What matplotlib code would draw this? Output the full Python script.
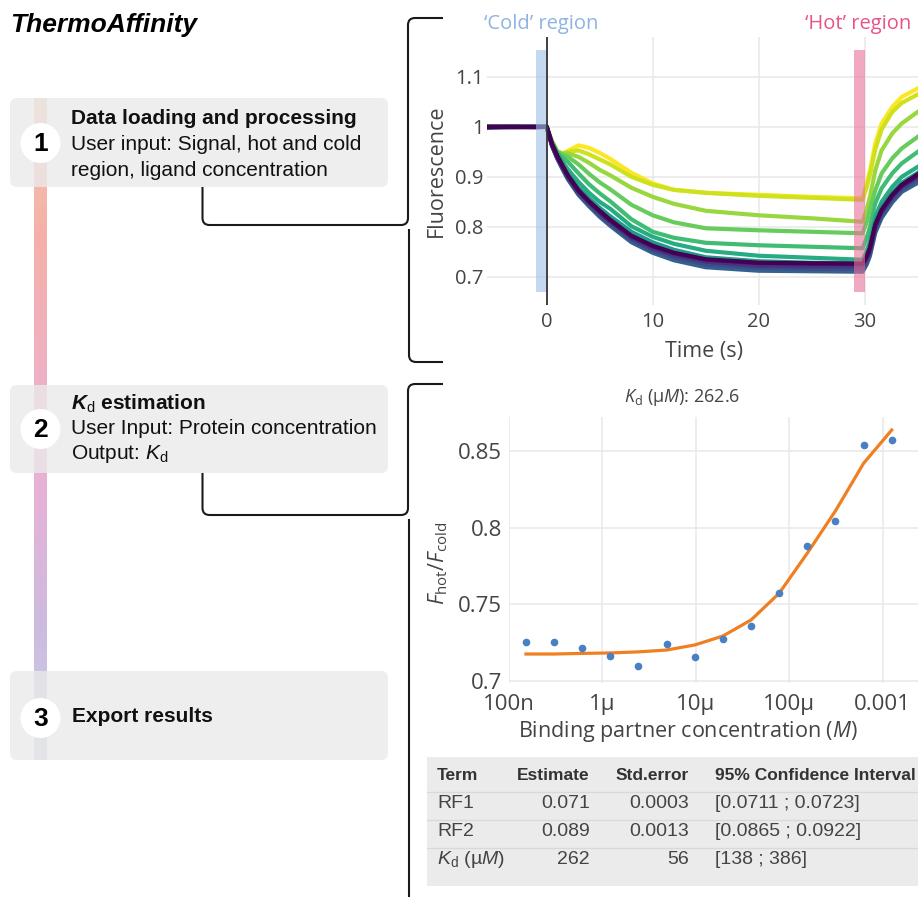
import numpy as np
import matplotlib
matplotlib.use("Agg")
import matplotlib.pyplot as plt
from matplotlib.path import Path
from matplotlib.patches import PathPatch, FancyBboxPatch, Circle, Rectangle
from matplotlib.colors import LinearSegmentedColormap

plt.rcParams["font.family"] = ["Open Sans", "DejaVu Sans"]
plt.rcParams["mathtext.fontset"] = "custom"
plt.rcParams["mathtext.rm"] = "Liberation Sans"
plt.rcParams["mathtext.it"] = "Liberation Sans:italic"
plt.rcParams["mathtext.bf"] = "Liberation Sans:bold:italic"
plt.rcParams["mathtext.sf"] = "Open Sans"
plt.rcParams["mathtext.cal"] = "Open Sans:italic"

# ---- data: thermophoresis traces ----
time_s = [-5.5, -3, -1, 0, 0.5, 1, 1.5, 2, 3, 4, 5, 6, 8, 10, 12, 15, 20, 25,
          29.8, 30.2, 30.5, 31, 31.6, 32.6, 33.5, 35]

# lowest ligand concentration first
f_c01 = [1.0, 1.0, 1.0, 1.0, 0.966, 0.942, 0.922, 0.903, 0.873, 0.851, 0.832, 0.814, 0.782, 0.762,
         0.748, 0.735, 0.728, 0.727, 0.726, 0.741, 0.758, 0.805, 0.834, 0.864, 0.884, 0.905]
f_c02 = [1.0, 1.0, 0.999, 1.0, 0.965, 0.941, 0.921, 0.902, 0.872, 0.85, 0.83, 0.812, 0.781, 0.761,
         0.747, 0.734, 0.727, 0.726, 0.726, 0.74, 0.757, 0.803, 0.832, 0.862, 0.882, 0.902]
f_c03 = [1.0, 0.999, 1.0, 1.0, 0.964, 0.94, 0.92, 0.9, 0.87, 0.848, 0.828, 0.81, 0.778, 0.757,
         0.743, 0.73, 0.722, 0.721, 0.721, 0.736, 0.753, 0.8, 0.83, 0.86, 0.88, 0.9]
f_c04 = [0.998, 1.0, 1.0, 1.0, 0.963, 0.938, 0.918, 0.898, 0.867, 0.845, 0.824, 0.806, 0.774, 0.753,
         0.739, 0.725, 0.718, 0.716, 0.716, 0.731, 0.748, 0.795, 0.825, 0.855, 0.876, 0.895]
f_c05 = [1.0, 1.0, 1.0, 1.0, 0.962, 0.936, 0.915, 0.895, 0.864, 0.841, 0.82, 0.802, 0.769, 0.748,
         0.733, 0.719, 0.712, 0.711, 0.71, 0.725, 0.742, 0.788, 0.818, 0.849, 0.87, 0.888]
f_c06 = [1.0, 1.0, 1.0, 1.0, 0.965, 0.941, 0.921, 0.901, 0.871, 0.849, 0.83, 0.812, 0.78, 0.76,
         0.746, 0.733, 0.726, 0.725, 0.724, 0.739, 0.756, 0.802, 0.831, 0.861, 0.881, 0.901]
f_c07 = [1.0, 1.001, 1.0, 1.0, 0.963, 0.938, 0.917, 0.898, 0.867, 0.845, 0.825, 0.807, 0.775, 0.754,
         0.74, 0.726, 0.718, 0.717, 0.716, 0.732, 0.749, 0.796, 0.826, 0.856, 0.877, 0.895]
f_c08 = [1.0, 1.0, 1.0, 1.0, 0.966, 0.943, 0.924, 0.906, 0.878, 0.857, 0.838, 0.821, 0.79, 0.769,
         0.754, 0.739, 0.731, 0.728, 0.727, 0.743, 0.761, 0.81, 0.84, 0.868, 0.888, 0.908]
f_c09 = [1.0, 1.0, 1.0, 1.0, 0.968, 0.947, 0.93, 0.915, 0.89, 0.868, 0.85, 0.836, 0.801, 0.78,
         0.766, 0.752, 0.742, 0.738, 0.734, 0.752, 0.772, 0.82, 0.85, 0.88, 0.9, 0.92]
f_c10 = [1.0, 1.0, 1.0, 1.0, 0.969, 0.948, 0.938, 0.93, 0.907, 0.885, 0.867, 0.851, 0.815, 0.79,
         0.778, 0.768, 0.763, 0.76, 0.757, 0.778, 0.8, 0.847, 0.877, 0.907, 0.927, 0.95]
f_c11 = [1.0, 1.0, 1.0, 1.0, 0.97, 0.95, 0.944, 0.94, 0.925, 0.906, 0.889, 0.875, 0.844, 0.823,
         0.809, 0.797, 0.793, 0.79, 0.787, 0.81, 0.835, 0.873, 0.907, 0.937, 0.957, 0.98]
f_c12 = [1.0, 1.0, 1.0, 1.0, 0.97, 0.95, 0.946, 0.947, 0.94, 0.928, 0.914, 0.903, 0.878, 0.86,
         0.846, 0.832, 0.823, 0.817, 0.81, 0.835, 0.86, 0.913, 0.953, 0.987, 1.007, 1.03]
f_c13 = [1.0, 1.0, 1.0, 1.0, 0.971, 0.951, 0.946, 0.95, 0.953, 0.945, 0.935, 0.925, 0.9, 0.884,
         0.874, 0.868, 0.862, 0.858, 0.854, 0.88, 0.905, 0.955, 0.995, 1.03, 1.048, 1.065]
f_c14 = [1.0, 1.0, 1.0, 1.0, 0.971, 0.952, 0.947, 0.952, 0.963, 0.958, 0.948, 0.936, 0.908, 0.887,
         0.874, 0.868, 0.864, 0.86, 0.857, 0.888, 0.913, 0.967, 1.007, 1.04, 1.06, 1.077]
traces = [f_c01, f_c02, f_c03, f_c04, f_c05, f_c06, f_c07,
          f_c08, f_c09, f_c10, f_c11, f_c12, f_c13, f_c14]

cold_region = (-1, 0)
hot_region = (29, 30)

# ---- data: dose response ----
conc_M = [1.53e-7, 3.05e-7, 6.1e-7, 1.22e-6, 2.44e-6, 4.88e-6, 9.77e-6,
          1.95e-5, 3.91e-5, 7.81e-5, 1.56e-4, 3.13e-4, 6.25e-4, 1.25e-3]
f_ratio = [0.7257, 0.7257, 0.7215, 0.7163, 0.7098, 0.7241, 0.7159,
           0.7272, 0.7361, 0.7576, 0.7883, 0.8041, 0.8541, 0.8574]
f_fit = [0.7176, 0.7176, 0.718, 0.7183, 0.719, 0.7202, 0.7235,
         0.7293, 0.7398, 0.7572, 0.7833, 0.811, 0.842, 0.8637]
kd_uM = 262.6
conc_ticks = [1e-7, 1e-6, 1e-5, 1e-4, 1e-3]
conc_ticklabels = ["100n", "1µ", "10µ", "100µ", "0.001"]

# ---- data: fit table ----
table_terms = ["RF1", "RF2", r"$\mathit{K}_\mathrm{d}$ (µ$\mathit{M}$)"]
table_estimate = ["0.071", "0.089", "262"]
table_stderr = ["0.0003", "0.0013", "56"]
table_ci = ["[0.0711 ; 0.0723]", "[0.0865 ; 0.0922]", "[138 ; 386]"]

W, H = 918, 897
fig = plt.figure(figsize=(W / 100, H / 100), dpi=100)

# full-figure canvas in pixel coordinates for the workflow panel
bg = fig.add_axes([0, 0, 1, 1])
bg.set_xlim(0, W)
bg.set_ylim(H, 0)
bg.axis("off")


def rounded_path(pts, r=7):
    verts = [pts[0]]
    codes = [Path.MOVETO]
    for i in range(1, len(pts) - 1):
        p0, p1, p2 = (np.array(p, float) for p in pts[i - 1:i + 2])
        u1 = (p1 - p0) / np.linalg.norm(p1 - p0)
        u2 = (p2 - p1) / np.linalg.norm(p2 - p1)
        verts += [tuple(p1 - r * u1), tuple(p1), tuple(p1 + r * u2)]
        codes += [Path.LINETO, Path.CURVE3, Path.CURVE3]
    verts.append(pts[-1])
    codes.append(Path.LINETO)
    return Path(verts, codes)


LEFT_FONT = "Liberation Sans"
bg.text(10, 25, "ThermoAffinity", fontsize=19, fontweight="bold", style="italic",
        family=LEFT_FONT, va="center", ha="left")

# gradient bar behind the step boxes
grad = LinearSegmentedColormap.from_list(
    "bar", ["#f5c4ae", "#f4b1a9", "#f0b0c2", "#e6b2d6", "#cdbbe0", "#c9d0e4"])
bg.imshow(np.linspace(0, 1, 256).reshape(-1, 1), cmap=grad, aspect="auto",
          extent=[34, 47, 760, 98], zorder=1)

boxes = [(98, 187), (385, 473), (671, 760)]
for top, bot in boxes:
    bg.add_patch(FancyBboxPatch((10, top), 378, bot - top,
                                boxstyle="round,pad=0,rounding_size=7",
                                fc="#eaeaea", ec="none", alpha=0.8, zorder=2))

for num, cy in zip(["1", "2", "3"], [143, 429, 718]):
    bg.add_patch(Circle((40.5, cy), 20, fc="white", ec="none", zorder=3))
    bg.text(40.5, cy + 1, num, fontsize=19, fontweight="bold", family=LEFT_FONT,
            ha="center", va="center", zorder=4)

txt = dict(family=LEFT_FONT, fontsize=15, ha="left", va="center", color="#111")
bg.text(71, 119, "Data loading and processing", fontweight="bold", **txt)
bg.text(71, 145, "User input: Signal, hot and cold", **txt)
bg.text(71, 170, "region, ligand concentration", **txt)
bg.text(71, 404, r"$\mathbf{K}_\mathrm{d}$ estimation", fontweight="bold", **txt)
bg.text(71, 429, "User Input: Protein concentration", **txt)
bg.text(71, 454, r"Output: $\mathit{K}_\mathrm{d}$", **txt)
bg.text(72, 717, "Export results", fontweight="bold", **txt)

# connectors / brackets
line_kw = dict(fc="none", ec="#1a1a1a", lw=1.5, zorder=3)
bg.add_patch(PathPatch(rounded_path([(202.5, 187), (202.5, 225), (408, 225),
                                     (408, 18), (443, 18)]), **line_kw))
bg.add_patch(PathPatch(rounded_path([(409, 229), (409, 362), (443, 362)]), **line_kw))
bg.add_patch(PathPatch(rounded_path([(202.5, 473), (202.5, 515), (408, 515),
                                     (408, 384), (443, 384)]), **line_kw))
bg.add_patch(PathPatch(rounded_path([(409, 519), (409, 905)]), **line_kw))

# fit table
bg.add_patch(Rectangle((427, 757), W - 427, 129, fc="#ebebeb", ec="none", zorder=1))
for y in [792.5, 820.5, 848.5]:
    bg.plot([427, W], [y, y], color="#d9d9d9", lw=0.9, zorder=2)
th = dict(family=LEFT_FONT, fontsize=12.5, va="center", zorder=3,
          fontweight="bold", color="#333")
bg.text(437, 775, "Term", ha="left", **th)
bg.text(590, 775, "Estimate", ha="right", **th)
bg.text(689, 775, "Std.error", ha="right", **th)
bg.text(715, 775, "95% Confidence Interval", ha="left", **th)
tb = dict(family=LEFT_FONT, fontsize=14, va="center", zorder=3, color="#444")
for y, term, est, se, ci in zip([803.5, 831.5, 859], table_terms, table_estimate,
                                table_stderr, table_ci):
    bg.text(437, y, term, ha="left", **tb)
    bg.text(590, y, est, ha="right", **tb)
    bg.text(689, y, se, ha="right", **tb)
    bg.text(715, y, ci, ha="left", **tb)

GRID = "#e8e8e8"
TICK = "#444444"


def px_axes(left, top, right, bottom):
    return fig.add_axes([left / W, 1 - bottom / H, (right - left) / W, (bottom - top) / H])


# ---- top panel: fluorescence traces ----
ax1 = px_axes(487, 37, W, 305)
ax1.set_facecolor("none")
colors = plt.cm.viridis(np.linspace(0, 1, len(traces)))
for vals, c in reversed(list(zip(traces, colors))):
    ax1.plot(time_s, vals, color=c, lw=3.0, solid_joinstyle="round", zorder=3)
band_lo = (0.67 - 0.6434) / (1.18 - 0.6434)
band_hi = (1.153 - 0.6434) / (1.18 - 0.6434)
ax1.axvspan(*cold_region, ymin=band_lo, ymax=band_hi, color="#9ec0e6", alpha=0.6, lw=0, zorder=4)
ax1.axvspan(*hot_region, ymin=band_lo, ymax=band_hi, color="#e97199", alpha=0.6, lw=0, zorder=4)
ax1.axvline(0, color="#333333", lw=1.3, zorder=5)
ax1.set_xlim(-5.63, 35.03)
ax1.set_ylim(0.6434, 1.18)
ax1.set_xticks([0, 10, 20, 30])
ax1.set_yticks([0.7, 0.8, 0.9, 1.0, 1.1])
ax1.set_yticklabels(["0.7", "0.8", "0.9", "1", "1.1"])
ax1.grid(True, color=GRID, lw=1.1, zorder=0)
ax1.set_axisbelow(True)
for s in ax1.spines.values():
    s.set_visible(False)
ax1.tick_params(length=0, labelsize=14.5, labelcolor=TICK)
ax1.tick_params(axis="y", pad=2.5)
ax1.tick_params(axis="x", pad=5)
bg.text(436, 171, "Fluorescence", rotation=90, fontsize=15.5, color=TICK,
        ha="center", va="center")
bg.text(704, 352, "Time (s)", fontsize=15.5, color=TICK, ha="center", va="center")
bg.text(484, 24, "‘Cold’ region", fontsize=14.5, color="#8cb3e3", ha="left", va="center")
bg.text(911, 24, "‘Hot’ region", fontsize=14.5, color="#e6548a", ha="right", va="center")

# ---- middle panel: dose response ----
ax2 = px_axes(508.7, 417.3, W, 683.3)
ax2.set_facecolor("none")
ax2.set_xscale("log")
ax2.plot(conc_M, f_fit, color="#f07f21", lw=2.3, zorder=3)
ax2.plot(conc_M, f_ratio, "o", color="#4a7fc4", ms=5.5, mec="none", zorder=4)
ax2.set_xlim(1e-7, 10 ** -2.622)
ax2.set_ylim(0.6985, 0.872)
ax2.set_xticks(conc_ticks)
ax2.set_xticklabels(conc_ticklabels)
ax2.xaxis.set_minor_locator(matplotlib.ticker.NullLocator())
ax2.set_yticks([0.7, 0.75, 0.8, 0.85])
ax2.set_yticklabels(["0.7", "0.75", "0.8", "0.85"])
ax2.grid(True, color=GRID, lw=1.1, zorder=0)
ax2.set_axisbelow(True)
for s in ax2.spines.values():
    s.set_visible(False)
ax2.tick_params(length=0, labelsize=16, labelcolor=TICK)
ax2.tick_params(axis="y", pad=5)
ax2.tick_params(axis="x", pad=8)
bg.text(682, 397, r"$\mathcal{K}_\mathsf{d}$ (µ$\mathcal{M}$): " + f"{kd_uM}",
        fontsize=13, color=TICK, ha="center", va="center")
bg.text(438, 563, r"$\mathcal{F}_\mathsf{hot}$/$\mathcal{F}_\mathsf{cold}$",
        rotation=90, fontsize=15.5, color=TICK, ha="center", va="center")
bg.text(688, 731, r"Binding partner concentration ($\mathcal{M}$)", fontsize=15.5,
        color=TICK, ha="center", va="center")

fig.savefig("out.png", dpi=100, facecolor="white")
